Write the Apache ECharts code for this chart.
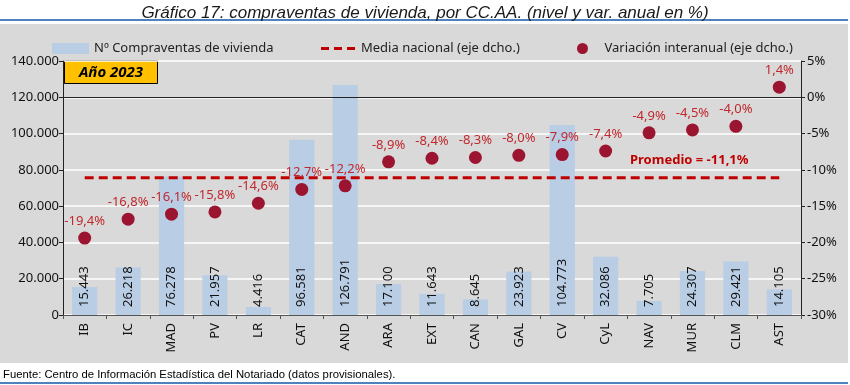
<!DOCTYPE html>
<html>
<head>
<meta charset="utf-8">
<script src="https://cdn.jsdelivr.net/npm/echarts@6/dist/echarts.min.js"></script>
<style>html,body{margin:0;padding:0;background:#fff}#c{width:850px;height:385px}</style>
</head>
<body>
<div id="c"></div>
<script>
const categories = ['IB','IC','MAD','PV','LR','CAT','AND','ARA','EXT','CAN','GAL','CV','CyL','NAV','MUR','CLM','AST'];
const compraventas = [15443,26218,76278,21957,4416,96581,126791,17100,11643,8645,23923,104773,32086,7705,24307,29421,14105];
const variacion = [-19.4,-16.8,-16.1,-15.8,-14.6,-12.7,-12.2,-8.9,-8.4,-8.3,-8.0,-7.9,-7.4,-4.9,-4.5,-4.0,1.4];
const mediaNacional = [-11.1,-11.1,-11.1,-11.1,-11.1,-11.1,-11.1,-11.1,-11.1,-11.1,-11.1,-11.1,-11.1,-11.1,-11.1,-11.1,-11.1];
const promedio = -11.1;

const FONT = 'Noto Sans';
const fmtThousands = v => String(v).replace(/\B(?=(\d{3})+(?!\d))/g, '.');
const fmtPct = v => v.toFixed(1).replace('.', ',') + '%';

const chart = echarts.init(document.getElementById('c'), null, {renderer: 'canvas'});
chart.setOption({
  animation: false,
  backgroundColor: '#ffffff',
  textStyle: {fontFamily: FONT},
  title: {
    text: 'Gráfico 17: compraventas de vivienda, por CC.AA. (nivel y var. anual en %)',
    left: 'center', top: 0,
    textStyle: {fontFamily: 'Liberation Sans', fontStyle: 'italic', fontWeight: 'normal', fontSize: 17, color: '#1a1a1a'}
  },
  graphic: [
    {type: 'rect', z: -10, shape: {x: 0, y: 24, width: 848, height: 339}, style: {fill: '#d9d9d9'}, silent: true},
    {type: 'rect', z: -5, shape: {x: 0, y: 19, width: 848, height: 2}, style: {fill: '#4f81bd'}, silent: true},
    {type: 'rect', z: -5, shape: {x: 0, y: 382, width: 848, height: 2}, style: {fill: '#4f81bd'}, silent: true},
    {type: 'text', left: 3, top: 369, style: {text: 'Fuente: Centro de Información Estadística del Notariado (datos provisionales).', font: '11.3px "Liberation Sans"', fill: '#000'}},
    {type: 'group', left: 64, top: 60, z: 100, children: [
      {type: 'rect', shape: {x: 0, y: 0, width: 93, height: 23}, style: {fill: '#ffc000', stroke: '#000', lineWidth: 1}},
      {type: 'text', style: {x: 46.5, y: 12, text: 'Año 2023', align: 'center', verticalAlign: 'middle', font: 'italic bold 15px "Noto Sans"', fill: '#000'}}
    ]},
    {type: 'text', left: 630, top: 154, z: 100, style: {text: 'Promedio = ' + fmtPct(promedio), font: 'bold 13px "Noto Sans"', fill: '#c00000'}}
  ],
  legend: [
    {data: [{name: 'Nº Compraventas de vivienda', icon: 'rect'}], left: 47, top: 37, itemWidth: 37, itemHeight: 11, itemGap: 5,
     textStyle: {fontSize: 13, color: '#222', fontFamily: FONT}},
    {data: [{name: 'Media nacional (eje dcho.)', icon: 'path://M0,0h8v3h-8z M13,0h8v3h-8z M26,0h8v3h-8z'}], left: 316, top: 37, itemWidth: 36, itemHeight: 3,
     textStyle: {fontSize: 13, color: '#222', fontFamily: FONT, padding: [0, 0, 0, 0]}},
    {data: [{name: 'Variación interanual (eje dcho.)', icon: 'circle'}], left: 572, top: 37, itemWidth: 34, itemHeight: 11,
     textStyle: {fontSize: 13, color: '#222', fontFamily: FONT}}
  ],
  grid: {left: 63, right: 49, top: 61, bottom: 70, containLabel: false},
  xAxis: {
    type: 'category', data: categories, boundaryGap: true,
    axisLine: {lineStyle: {color: '#555', width: 1}},
    axisTick: {show: true, alignWithLabel: false, length: 4, lineStyle: {color: '#555'}},
    axisLabel: {rotate: 90, fontSize: 13, color: '#111', margin: 8, fontFamily: FONT},
    splitLine: {show: false}
  },
  yAxis: [
    {type: 'value', min: 0, max: 140000, interval: 20000,
     axisLine: {show: true, lineStyle: {color: '#222'}},
     axisTick: {show: true, length: 4, lineStyle: {color: '#222'}},
     axisLabel: {formatter: fmtThousands, fontSize: 13, color: '#111', margin: 4, fontFamily: FONT},
     splitLine: {show: true, lineStyle: {color: '#ffffff', width: 1.5}}},
    {type: 'value', min: -30, max: 5, interval: 5, position: 'right',
     axisLine: {show: true, onZero: false, lineStyle: {color: '#222'}},
     axisTick: {show: true, length: 4, lineStyle: {color: '#222'}},
     axisLabel: {formatter: v => v + '%', fontSize: 13, color: '#111', margin: 6, fontFamily: FONT},
     splitLine: {show: false}}
  ],
  series: [
    {name: 'Nº Compraventas de vivienda', type: 'bar', data: compraventas, yAxisIndex: 0,
     barWidth: '58%', itemStyle: {color: '#b9cde5'}, z: 1,
     label: {show: true, position: 'insideBottom', distance: 8, rotate: 90, align: 'left', verticalAlign: 'middle',
       formatter: p => fmtThousands(p.value), fontSize: 13, color: '#111', fontFamily: FONT}},
    {name: 'Media nacional (eje dcho.)', type: 'line', data: mediaNacional, yAxisIndex: 1,
     symbol: 'none', z: 3,
     lineStyle: {color: '#c00000', width: 3, type: [9, 5]}, itemStyle: {color: '#c00000'}},
    {name: 'Variación interanual (eje dcho.)', type: 'scatter', data: variacion, yAxisIndex: 1,
     symbol: 'circle', symbolSize: 13, z: 4, itemStyle: {color: '#9b1530', opacity: 1},
     label: {show: true, position: 'top', distance: 4, formatter: p => fmtPct(p.value), fontSize: 13, color: '#c0282d', fontFamily: FONT},
     markLine: {silent: true, symbol: 'none', label: {show: false}, lineStyle: {color: '#222', width: 1, type: 'solid'},
       data: [{yAxis: 0}], z: 2}}
  ]
});
</script>
</body>
</html>
